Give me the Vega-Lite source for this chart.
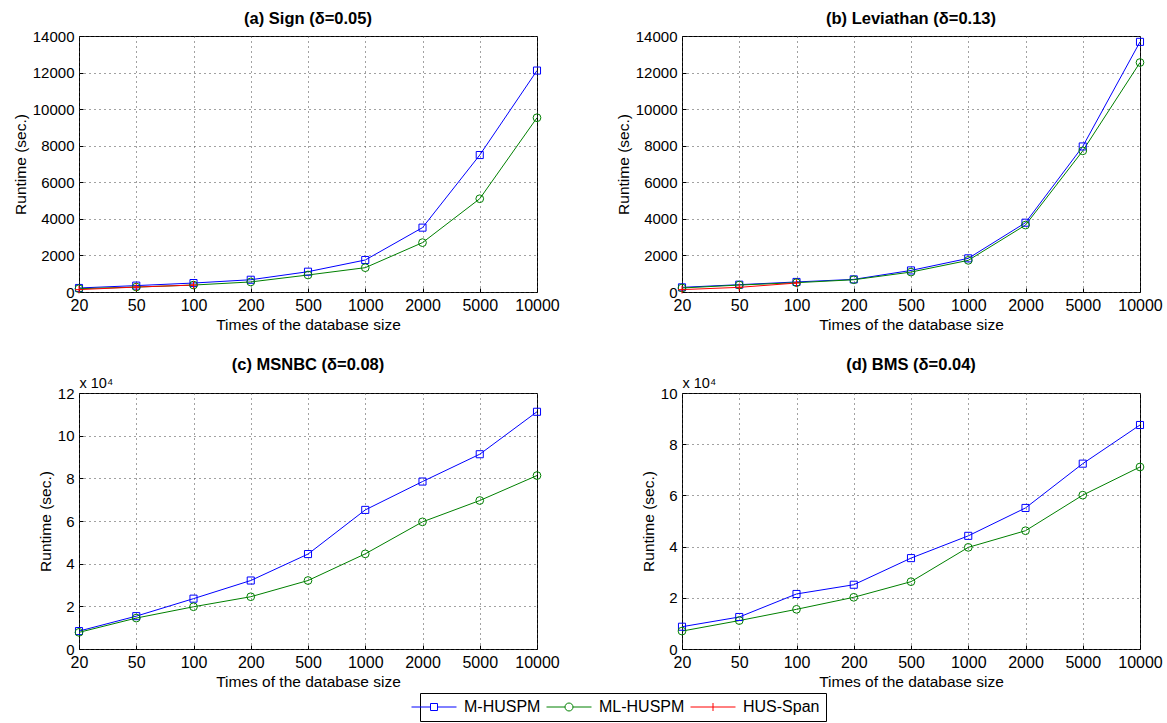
{
  "$schema": "https://vega.github.io/schema/vega-lite/v6.json",
  "padding": {"left": 12, "top": 10, "right": 10, "bottom": 0},
  "background": "white",
  "datasets": {
    "runs": [
      {"dataset": "Sign", "method": "M-HUSPM", "times": 20, "runtime": 220},
      {"dataset": "Sign", "method": "M-HUSPM", "times": 50, "runtime": 350},
      {"dataset": "Sign", "method": "M-HUSPM", "times": 100, "runtime": 490},
      {"dataset": "Sign", "method": "M-HUSPM", "times": 200, "runtime": 670},
      {"dataset": "Sign", "method": "M-HUSPM", "times": 500, "runtime": 1110},
      {"dataset": "Sign", "method": "M-HUSPM", "times": 1000, "runtime": 1750},
      {"dataset": "Sign", "method": "M-HUSPM", "times": 2000, "runtime": 3520},
      {"dataset": "Sign", "method": "M-HUSPM", "times": 5000, "runtime": 7490},
      {"dataset": "Sign", "method": "M-HUSPM", "times": 10000, "runtime": 12110},
      {"dataset": "Sign", "method": "ML-HUSPM", "times": 20, "runtime": 180},
      {"dataset": "Sign", "method": "ML-HUSPM", "times": 50, "runtime": 270},
      {"dataset": "Sign", "method": "ML-HUSPM", "times": 100, "runtime": 380},
      {"dataset": "Sign", "method": "ML-HUSPM", "times": 200, "runtime": 550},
      {"dataset": "Sign", "method": "ML-HUSPM", "times": 500, "runtime": 930},
      {"dataset": "Sign", "method": "ML-HUSPM", "times": 1000, "runtime": 1330},
      {"dataset": "Sign", "method": "ML-HUSPM", "times": 2000, "runtime": 2700},
      {"dataset": "Sign", "method": "ML-HUSPM", "times": 5000, "runtime": 5100},
      {"dataset": "Sign", "method": "ML-HUSPM", "times": 10000, "runtime": 9530},
      {"dataset": "Sign", "method": "HUS-Span", "times": 20, "runtime": 130},
      {"dataset": "Sign", "method": "HUS-Span", "times": 50, "runtime": 270},
      {"dataset": "Sign", "method": "HUS-Span", "times": 100, "runtime": 380},

      {"dataset": "Leviathan", "method": "M-HUSPM", "times": 20, "runtime": 255},
      {"dataset": "Leviathan", "method": "M-HUSPM", "times": 50, "runtime": 400},
      {"dataset": "Leviathan", "method": "M-HUSPM", "times": 100, "runtime": 550},
      {"dataset": "Leviathan", "method": "M-HUSPM", "times": 200, "runtime": 690},
      {"dataset": "Leviathan", "method": "M-HUSPM", "times": 500, "runtime": 1180},
      {"dataset": "Leviathan", "method": "M-HUSPM", "times": 1000, "runtime": 1840},
      {"dataset": "Leviathan", "method": "M-HUSPM", "times": 2000, "runtime": 3790},
      {"dataset": "Leviathan", "method": "M-HUSPM", "times": 5000, "runtime": 7960},
      {"dataset": "Leviathan", "method": "M-HUSPM", "times": 10000, "runtime": 13680},
      {"dataset": "Leviathan", "method": "ML-HUSPM", "times": 20, "runtime": 220},
      {"dataset": "Leviathan", "method": "ML-HUSPM", "times": 50, "runtime": 380},
      {"dataset": "Leviathan", "method": "ML-HUSPM", "times": 100, "runtime": 510},
      {"dataset": "Leviathan", "method": "ML-HUSPM", "times": 200, "runtime": 670},
      {"dataset": "Leviathan", "method": "ML-HUSPM", "times": 500, "runtime": 1090},
      {"dataset": "Leviathan", "method": "ML-HUSPM", "times": 1000, "runtime": 1730},
      {"dataset": "Leviathan", "method": "ML-HUSPM", "times": 2000, "runtime": 3660},
      {"dataset": "Leviathan", "method": "ML-HUSPM", "times": 5000, "runtime": 7720},
      {"dataset": "Leviathan", "method": "ML-HUSPM", "times": 10000, "runtime": 12550},
      {"dataset": "Leviathan", "method": "HUS-Span", "times": 20, "runtime": 130},
      {"dataset": "Leviathan", "method": "HUS-Span", "times": 50, "runtime": 255},
      {"dataset": "Leviathan", "method": "HUS-Span", "times": 100, "runtime": 490},

      {"dataset": "MSNBC", "method": "M-HUSPM", "times": 20, "runtime": 8400},
      {"dataset": "MSNBC", "method": "M-HUSPM", "times": 50, "runtime": 15400},
      {"dataset": "MSNBC", "method": "M-HUSPM", "times": 100, "runtime": 23600},
      {"dataset": "MSNBC", "method": "M-HUSPM", "times": 200, "runtime": 32100},
      {"dataset": "MSNBC", "method": "M-HUSPM", "times": 500, "runtime": 44500},
      {"dataset": "MSNBC", "method": "M-HUSPM", "times": 1000, "runtime": 65200},
      {"dataset": "MSNBC", "method": "M-HUSPM", "times": 2000, "runtime": 78500},
      {"dataset": "MSNBC", "method": "M-HUSPM", "times": 5000, "runtime": 91300},
      {"dataset": "MSNBC", "method": "M-HUSPM", "times": 10000, "runtime": 111200},
      {"dataset": "MSNBC", "method": "ML-HUSPM", "times": 20, "runtime": 7800},
      {"dataset": "MSNBC", "method": "ML-HUSPM", "times": 50, "runtime": 14500},
      {"dataset": "MSNBC", "method": "ML-HUSPM", "times": 100, "runtime": 19800},
      {"dataset": "MSNBC", "method": "ML-HUSPM", "times": 200, "runtime": 24500},
      {"dataset": "MSNBC", "method": "ML-HUSPM", "times": 500, "runtime": 32100},
      {"dataset": "MSNBC", "method": "ML-HUSPM", "times": 1000, "runtime": 44600},
      {"dataset": "MSNBC", "method": "ML-HUSPM", "times": 2000, "runtime": 59600},
      {"dataset": "MSNBC", "method": "ML-HUSPM", "times": 5000, "runtime": 69600},
      {"dataset": "MSNBC", "method": "ML-HUSPM", "times": 10000, "runtime": 81300},

      {"dataset": "BMS", "method": "M-HUSPM", "times": 20, "runtime": 8700},
      {"dataset": "BMS", "method": "M-HUSPM", "times": 50, "runtime": 12500},
      {"dataset": "BMS", "method": "M-HUSPM", "times": 100, "runtime": 21500},
      {"dataset": "BMS", "method": "M-HUSPM", "times": 200, "runtime": 25100},
      {"dataset": "BMS", "method": "M-HUSPM", "times": 500, "runtime": 35500},
      {"dataset": "BMS", "method": "M-HUSPM", "times": 1000, "runtime": 44200},
      {"dataset": "BMS", "method": "M-HUSPM", "times": 2000, "runtime": 55100},
      {"dataset": "BMS", "method": "M-HUSPM", "times": 5000, "runtime": 72400},
      {"dataset": "BMS", "method": "M-HUSPM", "times": 10000, "runtime": 87500},
      {"dataset": "BMS", "method": "ML-HUSPM", "times": 20, "runtime": 7000},
      {"dataset": "BMS", "method": "ML-HUSPM", "times": 50, "runtime": 11100},
      {"dataset": "BMS", "method": "ML-HUSPM", "times": 100, "runtime": 15500},
      {"dataset": "BMS", "method": "ML-HUSPM", "times": 200, "runtime": 20200},
      {"dataset": "BMS", "method": "ML-HUSPM", "times": 500, "runtime": 26300},
      {"dataset": "BMS", "method": "ML-HUSPM", "times": 1000, "runtime": 39700},
      {"dataset": "BMS", "method": "ML-HUSPM", "times": 2000, "runtime": 46200},
      {"dataset": "BMS", "method": "ML-HUSPM", "times": 5000, "runtime": 60100},
      {"dataset": "BMS", "method": "ML-HUSPM", "times": 10000, "runtime": 71100}
    ]
  },
  "data": {"name": "runs"},
  "bounds": "flush",
  "columns": 2,
  "spacing": {"row": 101, "column": 145},
  "resolve": {"scale": {"color": "shared"}, "legend": {"color": "shared"}},
  "concat": [
    {
      "title": "(a) Sign (δ=0.05)",
      "width": 458, "height": 256,
      "transform": [{"filter": "datum.dataset === 'Sign'"}],
      "encoding": {
        "x": {"field": "times", "type": "ordinal", "scale": {"type": "point", "padding": 0}, "axis": {"labelAngle": 0, "title": "Times of the database size"}},
        "y": {"field": "runtime", "type": "quantitative", "scale": {"domain": [0, 14000]}, "axis": {"values": [0, 2000, 4000, 6000, 8000, 10000, 12000, 14000], "format": "d", "title": "Runtime (sec.)"}},
        "color": {"field": "method", "type": "nominal", "title": null, "scale": {"domain": ["M-HUSPM", "ML-HUSPM", "HUS-Span"], "range": ["#0000ff", "#008000", "#ff0000"]},
          "legend": {"encode": {"symbols": {"update": {"shape": {"signal": "datum.value === 'M-HUSPM' ? 'M-4.5,0H-0.7M0.7,0H4.5M-0.7,-0.7H0.7V0.7H-0.7Z' : datum.value === 'ML-HUSPM' ? 'M-4.5,0H-0.8M0.8,0H4.5M-0.8,0A0.8,0.8 0 1,0 0.8,0A0.8,0.8 0 1,0 -0.8,0' : 'M-4.5,0H4.5M0,-0.8V0.8'"}, "fill": {"value": "transparent"}}}}}}
      },
      "layer": [
        {"mark": {"type": "line", "strokeWidth": 1}},
        {"transform": [{"filter": "datum.method === 'M-HUSPM'"}], "mark": {"type": "point", "shape": "square", "filled": false, "strokeWidth": 1, "size": 50, "opacity": 1}},
        {"transform": [{"filter": "datum.method === 'ML-HUSPM'"}], "mark": {"type": "point", "shape": "circle", "filled": false, "strokeWidth": 1, "size": 60, "opacity": 1}},
        {"transform": [{"filter": "datum.method === 'HUS-Span'"}], "mark": {"type": "point", "shape": "M-1,0H1M0,-1V1", "filled": false, "strokeWidth": 1, "size": 60, "opacity": 1}}
      ]
    },
    {
      "title": "(b) Leviathan (δ=0.13)",
      "width": 458, "height": 256,
      "transform": [{"filter": "datum.dataset === 'Leviathan'"}],
      "encoding": {
        "x": {"field": "times", "type": "ordinal", "scale": {"type": "point", "padding": 0}, "axis": {"labelAngle": 0, "title": "Times of the database size"}},
        "y": {"field": "runtime", "type": "quantitative", "scale": {"domain": [0, 14000]}, "axis": {"values": [0, 2000, 4000, 6000, 8000, 10000, 12000, 14000], "format": "d", "title": "Runtime (sec.)"}},
        "color": {"field": "method", "type": "nominal", "title": null, "scale": {"domain": ["M-HUSPM", "ML-HUSPM", "HUS-Span"], "range": ["#0000ff", "#008000", "#ff0000"]},
          "legend": {"encode": {"symbols": {"update": {"shape": {"signal": "datum.value === 'M-HUSPM' ? 'M-4.5,0H-0.7M0.7,0H4.5M-0.7,-0.7H0.7V0.7H-0.7Z' : datum.value === 'ML-HUSPM' ? 'M-4.5,0H-0.8M0.8,0H4.5M-0.8,0A0.8,0.8 0 1,0 0.8,0A0.8,0.8 0 1,0 -0.8,0' : 'M-4.5,0H4.5M0,-0.8V0.8'"}, "fill": {"value": "transparent"}}}}}}
      },
      "layer": [
        {"mark": {"type": "line", "strokeWidth": 1}},
        {"transform": [{"filter": "datum.method === 'M-HUSPM'"}], "mark": {"type": "point", "shape": "square", "filled": false, "strokeWidth": 1, "size": 50, "opacity": 1}},
        {"transform": [{"filter": "datum.method === 'ML-HUSPM'"}], "mark": {"type": "point", "shape": "circle", "filled": false, "strokeWidth": 1, "size": 60, "opacity": 1}},
        {"transform": [{"filter": "datum.method === 'HUS-Span'"}], "mark": {"type": "point", "shape": "M-1,0H1M0,-1V1", "filled": false, "strokeWidth": 1, "size": 60, "opacity": 1}}
      ]
    },
    {
      "title": "(c) MSNBC (δ=0.08)",
      "width": 458, "height": 256,
      "transform": [{"filter": "datum.dataset === 'MSNBC'"}],
      "encoding": {
        "x": {"field": "times", "type": "ordinal", "scale": {"type": "point", "padding": 0}, "axis": {"labelAngle": 0, "title": "Times of the database size"}},
        "color": {"field": "method", "type": "nominal", "title": null, "scale": {"domain": ["M-HUSPM", "ML-HUSPM", "HUS-Span"], "range": ["#0000ff", "#008000", "#ff0000"]},
          "legend": {"encode": {"symbols": {"update": {"shape": {"signal": "datum.value === 'M-HUSPM' ? 'M-4.5,0H-0.7M0.7,0H4.5M-0.7,-0.7H0.7V0.7H-0.7Z' : datum.value === 'ML-HUSPM' ? 'M-4.5,0H-0.8M0.8,0H4.5M-0.8,0A0.8,0.8 0 1,0 0.8,0A0.8,0.8 0 1,0 -0.8,0' : 'M-4.5,0H4.5M0,-0.8V0.8'"}, "fill": {"value": "transparent"}}}}}}
      },
      "resolve": {"scale": {"y": "independent"}},
      "layer": [
        {"mark": {"type": "line", "strokeWidth": 1},
         "encoding": {"y": {"field": "runtime", "type": "quantitative", "scale": {"domain": [0, 120000]}, "axis": {"values": [0, 20000, 40000, 60000, 80000, 100000, 120000], "labelExpr": "format(datum.value / 10000, 'd')", "title": "Runtime (sec.)"}}}},
        {"transform": [{"filter": "datum.method === 'M-HUSPM'"}], "mark": {"type": "point", "shape": "square", "filled": false, "strokeWidth": 1, "size": 50, "opacity": 1},
         "encoding": {"y": {"field": "runtime", "type": "quantitative", "scale": {"domain": [0, 120000]}, "axis": {"orient": "left", "labels": false, "ticks": false, "grid": false, "domain": false, "title": "x 10⁴", "titleAngle": 0, "titleX": 0, "titleY": -3, "titleAlign": "left", "titleBaseline": "bottom", "titleFontSize": 14.5}}}},
        {"transform": [{"filter": "datum.method === 'ML-HUSPM'"}], "mark": {"type": "point", "shape": "circle", "filled": false, "strokeWidth": 1, "size": 60, "opacity": 1},
         "encoding": {"y": {"field": "runtime", "type": "quantitative", "scale": {"domain": [0, 120000]}, "axis": null}}}
      ]
    },
    {
      "title": "(d) BMS (δ=0.04)",
      "width": 458, "height": 256,
      "transform": [{"filter": "datum.dataset === 'BMS'"}],
      "encoding": {
        "x": {"field": "times", "type": "ordinal", "scale": {"type": "point", "padding": 0}, "axis": {"labelAngle": 0, "title": "Times of the database size"}},
        "color": {"field": "method", "type": "nominal", "title": null, "scale": {"domain": ["M-HUSPM", "ML-HUSPM", "HUS-Span"], "range": ["#0000ff", "#008000", "#ff0000"]},
          "legend": {"encode": {"symbols": {"update": {"shape": {"signal": "datum.value === 'M-HUSPM' ? 'M-4.5,0H-0.7M0.7,0H4.5M-0.7,-0.7H0.7V0.7H-0.7Z' : datum.value === 'ML-HUSPM' ? 'M-4.5,0H-0.8M0.8,0H4.5M-0.8,0A0.8,0.8 0 1,0 0.8,0A0.8,0.8 0 1,0 -0.8,0' : 'M-4.5,0H4.5M0,-0.8V0.8'"}, "fill": {"value": "transparent"}}}}}}
      },
      "resolve": {"scale": {"y": "independent"}},
      "layer": [
        {"mark": {"type": "line", "strokeWidth": 1},
         "encoding": {"y": {"field": "runtime", "type": "quantitative", "scale": {"domain": [0, 100000]}, "axis": {"values": [0, 20000, 40000, 60000, 80000, 100000], "labelExpr": "format(datum.value / 10000, 'd')", "title": "Runtime (sec.)"}}}},
        {"transform": [{"filter": "datum.method === 'M-HUSPM'"}], "mark": {"type": "point", "shape": "square", "filled": false, "strokeWidth": 1, "size": 50, "opacity": 1},
         "encoding": {"y": {"field": "runtime", "type": "quantitative", "scale": {"domain": [0, 100000]}, "axis": {"orient": "left", "labels": false, "ticks": false, "grid": false, "domain": false, "title": "x 10⁴", "titleAngle": 0, "titleX": 0, "titleY": -3, "titleAlign": "left", "titleBaseline": "bottom", "titleFontSize": 14.5}}}},
        {"transform": [{"filter": "datum.method === 'ML-HUSPM'"}], "mark": {"type": "point", "shape": "circle", "filled": false, "strokeWidth": 1, "size": 60, "opacity": 1},
         "encoding": {"y": {"field": "runtime", "type": "quantitative", "scale": {"domain": [0, 100000]}, "axis": null}}}
      ]
    }
  ],
  "config": {
    "font": "Liberation Sans",
    "view": {"stroke": "black", "strokeWidth": 1},
    "title": {"fontSize": 16.5, "fontWeight": "bold", "color": "black", "anchor": "middle", "offset": 2},
    "axis": {
      "labelFontSize": 15.5, "titleFontSize": 15.5, "titleFontWeight": "normal",
      "labelColor": "black", "titleColor": "black",
      "grid": true, "gridColor": "#444", "gridDash": [1, 4], "gridOpacity": 1,
      "domain": false, "ticks": true, "tickColor": "black", "tickSize": -4,
      "titlePadding": 4, "labelFlush": false
    },
    "axisX": {"labelPadding": 9, "labelFontSize": 16},
    "axisY": {"labelPadding": 9, "labelFontSize": 15},
    "legend": {
      "orient": "none", "legendX": 341, "legendY": 657, "direction": "horizontal",
      "strokeColor": "black", "fillColor": "white", "padding": 6,
      "labelFontSize": 16, "labelColor": "black", "symbolSize": 100, "symbolStrokeWidth": 1,
      "columnPadding": 3, "labelOffset": 22
    }
  }
}
